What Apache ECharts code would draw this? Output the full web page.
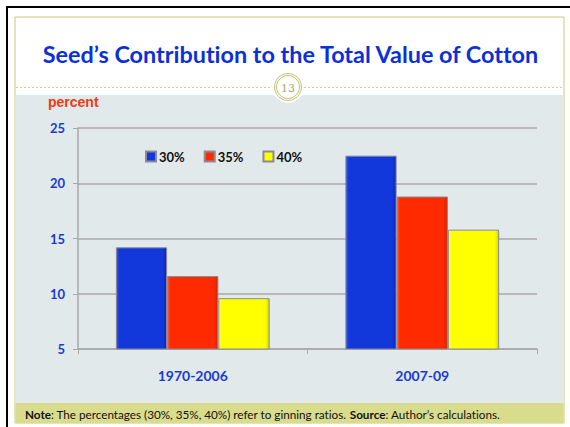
<!DOCTYPE html>
<html>
<head>
<meta charset="utf-8">
<script src="https://cdn.jsdelivr.net/npm/echarts@6/dist/echarts.min.js"></script>
<style>
  html, body { margin: 0; padding: 0; background: #ffffff; }
  #chart { width: 570px; height: 427px; }
  #chart text { font-variant-ligatures: none !important; font-feature-settings: "liga" 0, "clig" 0 !important; }
</style>
</head>
<body>
<div id="chart"></div>
<script>
// Periods on the category axis
const categories = ['1970-2006', '2007-09'];
// Ginning ratios (legend entries)
const ratioNames = ['30%', '35%', '40%'];
// Seed share of total cotton value, percent
const ratio30 = [14.2, 22.5];
const ratio35 = [11.6, 18.8];
const ratio40 = [9.6, 15.8];
// Value axis range
const yMin = 5;
const yMax = 25;
const yStep = 5;

// base, light edge, dark edge for each bar colour
const barColors = [
  ['#1238dc', '#3358ee', '#0b28b0'],
  ['#ff2a00', '#ff5530', '#d82200'],
  ['#ffff00', '#ffff66', '#d8d800']
];
const seriesValues = [ratio30, ratio35, ratio40];

const chart = echarts.init(document.getElementById('chart'), null, { renderer: 'svg' });

const labelBlue = '#1a3bd0';
const gridGray = '#a8a8a8';

function bevel(c) {
  return new echarts.graphic.LinearGradient(0, 0, 1, 0, [
    { offset: 0, color: c[1] },
    { offset: 0.06, color: c[0] },
    { offset: 0.92, color: c[0] },
    { offset: 1, color: c[2] }
  ]);
}

const option = {
  backgroundColor: '#ffffff',
  animation: false,
  graphic: [
    // outer frame lines
    { type: 'rect', z: 0, shape: { x: 6, y: 6, width: 570, height: 2 }, style: { fill: '#000' } },
    { type: 'rect', z: 0, shape: { x: 6, y: 6, width: 2, height: 427 }, style: { fill: '#000' } },
    // slide body
    { type: 'rect', z: 0, shape: { x: 15, y: 17, width: 549, height: 406 }, style: { fill: '#ffffff', stroke: '#c9c97a', lineWidth: 1 } },
    // plot panel
    { type: 'rect', z: 0, shape: { x: 15.5, y: 95, width: 548, height: 308 }, style: { fill: '#e1e9eb' } },
    // note band
    { type: 'rect', z: 0, shape: { x: 15.5, y: 403, width: 548, height: 20 }, style: { fill: '#d9dc8c' } },
    // dashed divider
    { type: 'line', z: 1, shape: { x1: 16, y1: 87.5, x2: 563, y2: 87.5 }, style: { stroke: '#cfcf8a', lineWidth: 1, lineDash: [2, 2] } },
    // page number badge
    { type: 'circle', z: 2, shape: { cx: 288, cy: 87, r: 16 }, style: { fill: '#ffffff' } },
    { type: 'circle', z: 3, shape: { cx: 288, cy: 87, r: 13.5 }, style: { fill: 'none', stroke: '#c4c070', lineWidth: 1 } },
    { type: 'circle', z: 3, shape: { cx: 288, cy: 87, r: 11.5 }, style: { fill: 'none', stroke: '#c4c070', lineWidth: 1 } },
    { type: 'text', z: 4, style: { x: 288, y: 88, text: '13', align: 'center', verticalAlign: 'middle', fill: '#a8a468', font: '11px "DejaVu Serif"' } },
    // title
    { type: 'text', z: 4, style: { x: 290.5, y: 54, text: 'Seed\u2019s Contribution to the Total Value of Cotton', align: 'center', verticalAlign: 'middle', fill: '#0b30d8', font: 'bold 23.4px Lato' } },
    // unit label
    { type: 'text', z: 4, style: { x: 48, y: 102, text: 'percent', align: 'left', verticalAlign: 'middle', fill: '#f23a10', font: 'bold 14px "Liberation Sans"' } },
    // note
    { type: 'text', z: 4, style: {
        x: 25, y: 414, align: 'left', verticalAlign: 'middle',
        text: '{b|Note}: The percentages (30%, 35%, 40%) refer to ginning ratios. {b|Source}: Author\u2019s calculations.',
        fill: '#111', font: '11.7px Lato',
        rich: { b: { fontWeight: 'bold', fontSize: 11.7, fontFamily: 'Lato', fill: '#111' } }
    } }
  ],
  legend: {
    data: ratioNames,
    left: 145,
    top: 150,
    padding: 0,
    icon: 'rect',
    itemWidth: 10,
    itemHeight: 10,
    itemGap: 19,
    textStyle: { color: '#111', fontWeight: 'bold', fontSize: 13, fontFamily: 'Lato', padding: [0, 0, 0, -2] }
  },
  grid: { left: 78, right: 33, top: 128, bottom: 78, containLabel: false },
  xAxis: {
    type: 'category',
    data: categories,
    axisLine: { show: true, lineStyle: { color: gridGray, width: 1.5 } },
    axisTick: { show: true, length: 5, lineStyle: { color: gridGray, width: 1 } },
    axisLabel: { margin: 19, color: labelBlue, fontWeight: 'bold', fontSize: 14, fontFamily: 'Lato' },
    splitLine: { show: false }
  },
  yAxis: {
    type: 'value',
    min: yMin,
    max: yMax,
    interval: yStep,
    axisLine: { show: true, lineStyle: { color: gridGray, width: 1.5 } },
    axisTick: { show: true, length: 5, lineStyle: { color: gridGray, width: 1 } },
    axisLabel: { margin: 13, color: labelBlue, fontWeight: 'bold', fontSize: 13, fontFamily: 'Lato' },
    splitLine: { show: true, lineStyle: { color: gridGray, width: 1.5 } }
  },
  series: ratioNames.map((name, i) => ({
    name: name,
    type: 'bar',
    data: seriesValues[i],
    barGap: '0%',
    barCategoryGap: '33%',
    color: barColors[i][0],
    itemStyle: { color: bevel(barColors[i]), borderColor: '#8a8a96', borderWidth: 1 }
  }))
};

chart.setOption(option);
</script>
</body>
</html>
